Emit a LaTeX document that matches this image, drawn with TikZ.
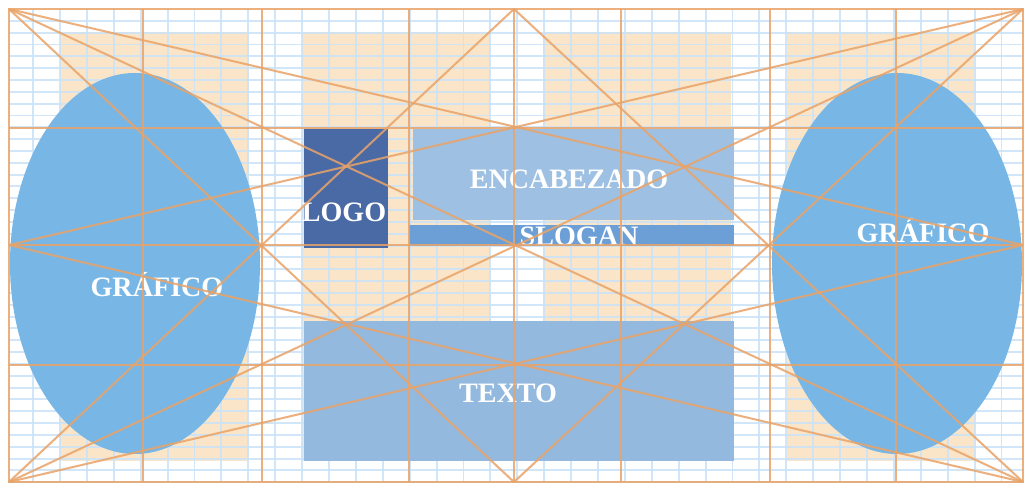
\documentclass[tikz,border=0pt]{standalone}
\usepackage{fontspec}
\setmainfont{Liberation Serif}

\definecolor{guia}{RGB}{233,163,104}
\definecolor{rejilla}{RGB}{202,227,249}
\definecolor{melocoton}{RGB}{250,229,200}
\definecolor{cielo}{RGB}{120,183,229}
\definecolor{marino}{RGB}{74,106,166}
\definecolor{cabecera}{RGB}{158,193,227}
\definecolor{eslogan}{RGB}{108,159,214}
\definecolor{cuerpo}{RGB}{147,185,223}

\tikzset{
  guide/.style={draw=guia, line width=1.15pt, opacity=0.85},
  fine/.style={draw=rejilla, line width=1.1pt, opacity=0.85},
  column/.style={fill=melocoton},
  label/.style={text=white, font=\fontsize{16}{19}\selectfont\bfseries, anchor=base, inner sep=0pt}
}

\begin{document}
\begin{tikzpicture}[x=0.02cm,y=-0.02cm]
\useasboundingbox (0,0) rectangle (1024,483);
\fill[white] (0,0) rectangle (1024,483);

% columnas
\fill[column] (60,32) rectangle (249,461);
\fill[column] (302,32) rectangle (490,461);
\fill[column] (543,32) rectangle (731,461);
\fill[column] (787,32) rectangle (975,461);

% rejilla
\foreach \k in {1,...,37} \draw[fine] (6.2+26.9*\k,9) -- (6.2+26.9*\k,483);
\foreach \k in {1,...,40} \draw[fine] (9,9+11.83*\k) -- (1024,9+11.83*\k);

% graficos
\fill[cielo] (135,263.5) ellipse [x radius=125, y radius=190.5];
\fill[cielo] (897,263.5) ellipse [x radius=125, y radius=190.5];

% bloques
\fill[marino] (304,129) rectangle (388,248);
\fill[cabecera] (413,129) rectangle (734,220);
\fill[eslogan] (409,225) rectangle (734,246);
\fill[cuerpo] (304,321) rectangle (734,461);

\node[label] (logo) at (344,221) {LOGO};
\node[label] (encabezado) at (569,188) {ENCABEZADO};
\node[label] (slogan) at (579,245) {SLOGAN};
\node[label] (texto) at (508,402) {TEXTO};
\node[label] (graficoizq) at (157,296) {GRÁFICO};
\node[label] (graficoder) at (923,242) {GRÁFICO};

% guias
\coordinate (tl) at (9,9);
\coordinate (tr) at (1023,9);
\coordinate (bl) at (9,482);
\coordinate (br) at (1023,482);
\coordinate (tm) at (514,9);
\coordinate (bm) at (514,482);
\coordinate (lm) at (9,245);
\coordinate (rm) at (1023,245);

\draw[guide] (tl) rectangle (br);
\draw[guide] (9,128) -- (1023,128);
\draw[guide] (lm) -- (rm);
\draw[guide] (9,365) -- (1023,365);

\draw[guide] (143,9) -- (143,482);
\draw[guide] (262,9) -- (262,482);
\draw[guide] (409,9) -- (409,482);
\draw[guide] (tm) -- (bm);
\draw[guide] (621,9) -- (621,482);
\draw[guide] (770,9) -- (770,482);
\draw[guide] (896,9) -- (896,482);

\draw[guide] (tl) -- (br);
\draw[guide] (tr) -- (bl);
\draw[guide] (tl) -- (rm);
\draw[guide] (bl) -- (rm);
\draw[guide] (tr) -- (lm);
\draw[guide] (br) -- (lm);
\draw[guide] (tl) -- (bm);
\draw[guide] (tr) -- (bm);
\draw[guide] (bl) -- (tm);
\draw[guide] (br) -- (tm);
\end{tikzpicture}
\end{document}
